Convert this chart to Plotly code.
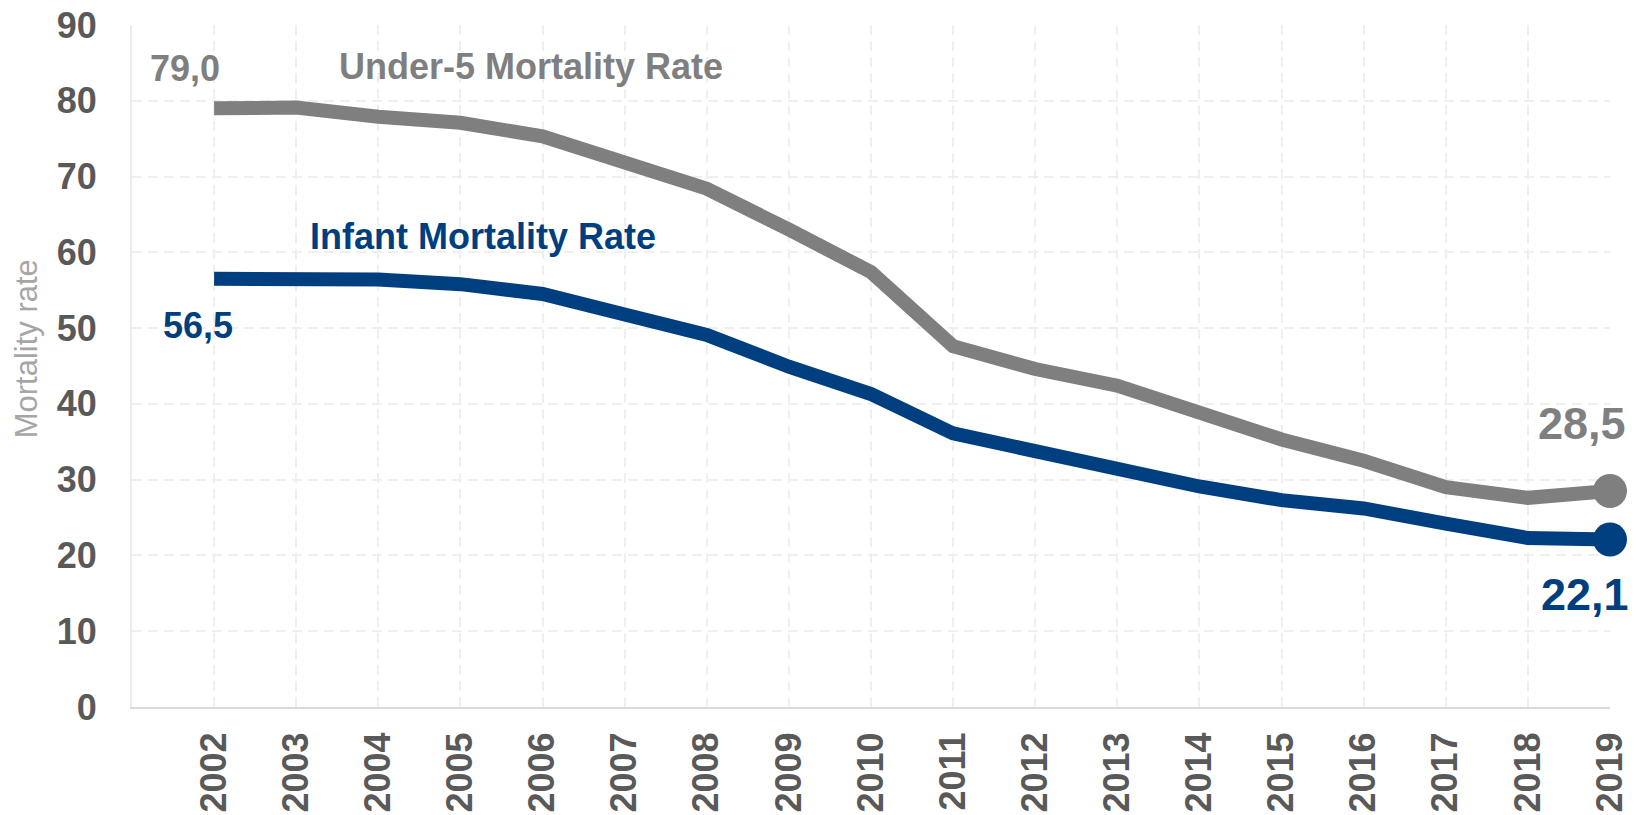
import plotly.graph_objects as go

years = list(range(2002, 2020))
under5 = [79.0, 79.1, 77.9, 77.1, 75.3, 71.9, 68.4, 63.0, 57.4, 47.6, 44.6, 42.4, 38.9, 35.3, 32.5, 29.0, 27.6, 28.5]
infant = [56.5, 56.5, 56.4, 55.8, 54.5, 51.8, 49.1, 44.9, 41.3, 36.1, 33.8, 31.8, 29.1, 27.3, 26.2, 24.2, 22.3, 22.1]
y_ticks = list(range(0, 100, 10))

GRAY = "#7f7f7f"
BLUE = "#003f7f"
TICK = "#595959"
FONT = "Liberation Sans, Arial, sans-serif"

fig = go.Figure()
fig.add_trace(go.Scatter(x=years, y=under5, mode="lines",
                         line=dict(color=GRAY, width=14), cliponaxis=False, hoverinfo="skip"))
fig.add_trace(go.Scatter(x=years, y=infant, mode="lines",
                         line=dict(color=BLUE, width=14), cliponaxis=False, hoverinfo="skip"))
fig.add_trace(go.Scatter(x=[years[-1]], y=[under5[-1]], mode="markers",
                         marker=dict(color=GRAY, size=34), cliponaxis=False, hoverinfo="skip"))
fig.add_trace(go.Scatter(x=[years[-1]], y=[infant[-1]], mode="markers",
                         marker=dict(color=BLUE, size=34), cliponaxis=False, hoverinfo="skip"))

def ann(text, x, y, color, size):
    fig.add_annotation(x=x, y=y, text=text, showarrow=False, xref="x", yref="y",
                       font=dict(family=FONT, size=size, color=color, weight="bold"),
                       xanchor="center", yanchor="middle")

ann("79,0", 2001.65, 84.3, GRAY, 36)
ann("Under-5 Mortality Rate", 2005.86, 84.5, GRAY, 36)
ann("Infant Mortality Rate", 2005.27, 62.1, BLUE, 36)
ann("56,5", 2001.8, 50.4, BLUE, 36)
ann("28,5", 2018.66, 37.4, GRAY, 45)
ann("22,1", 2018.69, 14.9, BLUE, 45)

# y-axis title
fig.add_annotation(x=0, xref="paper", y=47.2, yref="y", text="Mortality rate", showarrow=False,
                   textangle=-90, xanchor="center", yanchor="middle", xshift=-106,
                   font=dict(family=FONT, size=31, color="#a6a6a6"))

grid = dict(showgrid=True, gridcolor="#efefef", gridwidth=2, griddash="10px,6px")

fig.update_layout(
    width=1644, height=815,
    margin=dict(l=132, r=34, t=25, b=108, autoexpand=False),
    paper_bgcolor="white", plot_bgcolor="white",
    showlegend=False,
    font=dict(family=FONT),
    xaxis=dict(range=[2001, 2019], tickvals=years, ticktext=[str(y) for y in years],
               tickangle=-90, tickfont=dict(family=FONT, size=36, color=TICK, weight="bold"),
               ticks="", ticklabelstandoff=9, showline=True, linecolor="#d9d9d9", linewidth=2,
               zeroline=False, fixedrange=True, automargin=False, **grid),
    yaxis=dict(range=[0, 90], tickvals=y_ticks,
               tickfont=dict(family=FONT, size=36, color=TICK, weight="bold"),
               ticks="", ticklabelstandoff=26, showline=True, linecolor="#ebebeb", linewidth=2,
               zeroline=False, fixedrange=True, automargin=False,
               **grid),
)

fig.write_html("out.html", config={"displayModeBar": False},
               post_script="document.body.style.margin='0';document.body.style.overflow='hidden';")
